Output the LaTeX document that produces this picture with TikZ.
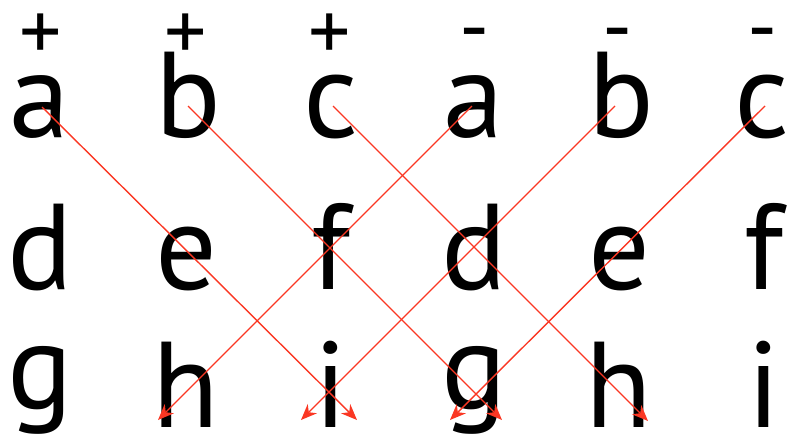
\documentclass[tikz,border=0pt]{standalone}
\usepackage{fontspec}
\setmainfont{PT Sans}
\usetikzlibrary{arrows.meta}
\definecolor{arrred}{RGB}{250,55,35}
\begin{document}
\begin{tikzpicture}[x=1pt,y=-1pt,
  letter/.style={inner sep=0pt,anchor=base,font=\fontsize{122}{122}\selectfont},
  sign/.style={inner sep=0pt,anchor=base,font=\fontsize{84}{84}\selectfont},
  arr/.style={draw=arrred,line width=1.4pt,-{Stealth[length=16pt,width=13pt,inset=5pt]}}]
\useasboundingbox (0,0) rectangle (788,437);
% signs
\node[sign] (s1) at (41,60) {+};
\node[sign] (s2) at (186,60) {+};
\node[sign] (s3) at (330,60) {+};
\node[sign] (s4) at (475,55) {-};
\node[sign] (s5) at (618,55) {-};
\node[sign] (s6) at (763,55) {-};
% row 1
\node[letter] (a1) at (40,137) {a};
\node[letter] (b1) at (188,137) {b};
\node[letter] (c1) at (331,137) {c};
\node[letter] (a2) at (474,137) {a};
\node[letter] (b2) at (621,137) {b};
\node[letter] (c2) at (762,137) {c};
% row 2
\node[letter] (d1) at (40,289) {d};
\node[letter] (e1) at (186,289) {e};
\node[letter] (f1) at (331,289) {f};
\node[letter] (d2) at (474,289) {d};
\node[letter] (e2) at (619,289) {e};
\node[letter] (f2) at (764,289) {f};
% row 3
\node[letter] (g1) at (40,408) {g};
\node[letter] (h1) at (186,427) {h};
\node[letter] (i1) at (331,427) {i};
\node[letter] (g2) at (474,408) {g};
\node[letter] (h2) at (619,427) {h};
\node[letter] (i2) at (764,427) {i};
% start points
\coordinate (pa1) at (42,107);
\coordinate (pb1) at (188,106);
\coordinate (pc1) at (333,106);
\coordinate (pa2) at (472,106);
\coordinate (pb2) at (615,106);
\coordinate (pc2) at (765,106);
% end points
\coordinate (q1) at (357,420);
\coordinate (q2) at (502,420);
\coordinate (q3) at (648,421);
\coordinate (q4) at (158,420);
\coordinate (q5) at (301,420);
\coordinate (q6) at (450,420);
\draw[arr] (pa1) -- (q1);
\draw[arr] (pb1) -- (q2);
\draw[arr] (pc1) -- (q3);
\draw[arr] (pa2) -- (q4);
\draw[arr] (pb2) -- (q5);
\draw[arr] (pc2) -- (q6);
\end{tikzpicture}
\end{document}
